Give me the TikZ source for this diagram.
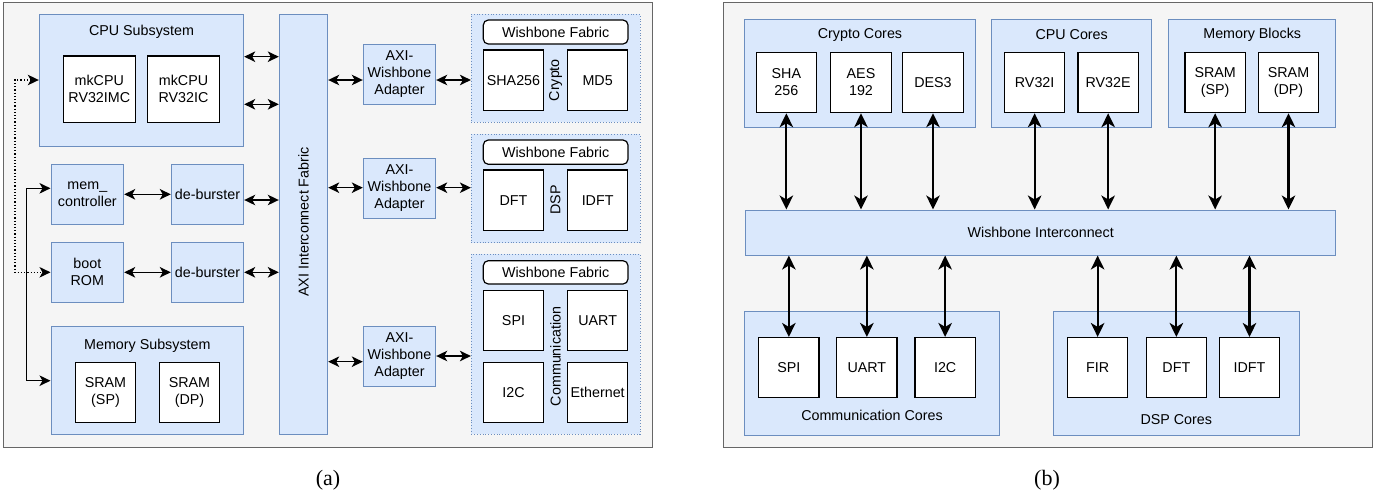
\documentclass[tikz,border=0pt]{standalone}
\usepackage{fontspec}
\setmainfont{Liberation Sans}
\newfontfamily\capfont{Liberation Serif}
\usetikzlibrary{arrows.meta}
\definecolor{panelfill}{HTML}{F5F5F5}
\definecolor{panelline}{HTML}{666666}
\definecolor{bluefill}{HTML}{DAE8FC}
\definecolor{blueline}{HTML}{6C8EBF}
\tikzset{
  txt/.style={font=\fontsize{14.3}{17}\selectfont, align=center, inner sep=0pt},
  panel/.style={draw=panelline, fill=panelfill, line width=1pt, inner sep=0pt},
  bluebox/.style={txt, draw=blueline, fill=bluefill, line width=1pt},
  groupbox/.style={draw=blueline, fill=bluefill, dotted, line width=0.8pt, inner sep=0pt},
  whitebox/.style={txt, draw=black, fill=white, line width=1.2pt},
  fabric/.style={whitebox, rounded corners=5pt},
  lbl/.style={txt},
  caption/.style={font=\capfont\fontsize{22}{24}\selectfont, inner sep=0pt, anchor=base},
  core/.style={whitebox, minimum width=60.4pt, minimum height=60.3pt},
  adapter/.style={bluebox, minimum width=72.4pt, minimum height=60.3pt},
  arrL/.style={{Stealth[length=11pt,width=10.5pt,inset=3pt]}-{Stealth[length=11pt,width=10.5pt,inset=3pt]}, line width=1.4pt},
  arrR/.style={{Stealth[length=14pt,width=13.5pt,inset=4pt]}-{Stealth[length=14pt,width=13.5pt,inset=4pt]}, line width=2.2pt},
  dotarr/.style={{Stealth[length=11pt,width=10.5pt,inset=3pt]}-{Stealth[length=11pt,width=10.5pt,inset=3pt]}, line width=1.1pt, dash pattern=on 1.2pt off 2pt}
}
\begin{document}
\begin{tikzpicture}[x=1pt,y=-1pt]
\useasboundingbox (0,0) rectangle (1387,493);

% ---------------- panel (a): AXI based SoC ----------------
\node[panel, minimum width=649pt, minimum height=445pt] (framea) at (327.5,224.5) {};

\node[bluebox, minimum width=204.4pt, minimum height=132.3pt] (cpusub) at (141.5,80.15) {};
\node[lbl] (cpusubt) at (141.5,32.3) {CPU Subsystem};
\node[whitebox, minimum width=72pt, minimum height=66.3pt] (cpu1) at (99.3,89.15) {mkCPU\\RV32IMC};
\node[whitebox, minimum width=72.4pt, minimum height=66.3pt] (cpu2) at (183.5,89.15) {mkCPU\\RV32IC};

\node[bluebox, minimum width=48.4pt, minimum height=420.3pt] (axi) at (303.5,224.15) {};
\node[lbl, rotate=90] (axit) at (303.5,222) {AXI Interconnect Fabric};

\node[adapter] (ad1) at (399.5,74.15) {AXI-\\Wishbone\\Adapter};
\node[adapter] (ad2) at (399.5,188.3) {AXI-\\Wishbone\\Adapter};
\node[adapter] (ad3) at (399.5,356.5) {AXI-\\Wishbone\\Adapter};

% crypto group
\node[groupbox, minimum width=168.7pt, minimum height=108.3pt] (g1) at (555.65,68.15) {};
\node[fabric, minimum width=144.7pt, minimum height=24pt] (wf1) at (555.65,32) {Wishbone Fabric};
\node[core] (sha) at (513.5,80.15) {SHA256};
\node[core] (md5) at (597.65,80.15) {MD5};
\node[lbl, rotate=90] (g1t) at (555.5,80.15) {Crypto};

% DSP group
\node[groupbox, minimum width=168.7pt, minimum height=108.4pt] (g2) at (555.65,188.5) {};
\node[fabric, minimum width=144.7pt, minimum height=24.3pt] (wf2) at (555.65,152.15) {Wishbone Fabric};
\node[core] (dft) at (513.5,200.15) {DFT};
\node[core] (idft) at (597.65,200.15) {IDFT};
\node[lbl, rotate=90] (g2t) at (555.5,200.15) {DSP};

% communication group
\node[groupbox, minimum width=168.7pt, minimum height=180.3pt] (g3) at (555.65,344.15) {};
\node[fabric, minimum width=144.7pt, minimum height=23.3pt] (wf3) at (555.65,272.35) {Wishbone Fabric};
\node[core] (spi) at (513.5,320.3) {SPI};
\node[core] (uart) at (597.65,320.3) {UART};
\node[core] (i2c) at (513.5,392.5) {I2C};
\node[core] (eth) at (597.65,392.5) {Ethernet};
\node[lbl, rotate=90] (g3t) at (555.5,356.4) {Communication};

% memory side
\node[adapter, minimum width=72.7pt] (memc) at (87.35,194.15) {mem\_\\controller};
\node[adapter] (deb1) at (207.5,194.15) {de-burster};
\node[adapter, minimum width=72.7pt] (boot) at (87.35,272.3) {boot\\ROM};
\node[adapter] (deb2) at (207.5,272.3) {de-burster};

\node[bluebox, minimum width=192.7pt, minimum height=107.6pt] (memsub) at (147.35,380.5) {};
\node[lbl] (memsubt) at (147.35,346) {Memory Subsystem};
\node[core] (sramsp) at (105.5,392.5) {SRAM\\(SP)};
\node[core] (sramdp) at (189.5,392.5) {SRAM\\(DP)};

% connectors of panel (a)
\draw[arrL] (cpusub.east |- 0,56.7) -- (axi.west |- 0,56.7);
\draw[arrL] (cpusub.east |- 0,104.3) -- (axi.west |- 0,104.3);
\draw[arrL] (axi.east |- 0,80) -- (ad1.west |- 0,80);
\draw[arrL] (ad1.east |- 0,80) -- (g1.west |- 0,80);
\draw[arrL] (axi.east |- 0,187.7) -- (ad2.west |- 0,187.7);
\draw[arrL] (ad2.east |- 0,187.7) -- (g2.west |- 0,187.7);
\draw[arrL] (axi.east |- 0,361.7) -- (ad3.west |- 0,361.7);
\draw[arrL] (ad3.east |- 0,356) -- (g3.west |- 0,356);
\draw[arrL] (memc.east |- 0,194.3) -- (deb1.west |- 0,194.3);
\draw[arrL] (deb1.east |- 0,200) -- (axi.west |- 0,200);
\draw[arrL] (boot.east) -- (deb2.west);
\draw[arrL] (deb2.east) -- (axi.west |- deb2.east);
\draw[arrL] (memc.west |- 0,188.3) -| (26.7,380.7) -- (memsub.west |- 0,380.7);
\draw[dotarr] (cpusub.west |- 0,80) -| (15,272.3) -- (boot.west);

\node[caption] (capa) at (328,485) {(a)};

% ---------------- panel (b): Wishbone based SoC ----------------
\node[panel, minimum width=649pt, minimum height=445pt] (frameb) at (1047.5,224.5) {};

\node[bluebox, minimum width=230.6pt, minimum height=108pt] (crypto) at (860,73) {};
\node[lbl] (cryptot) at (860,35) {Crypto Cores};
\node[core] (sha2) at (786.35,82.5) {SHA\\256};
\node[core] (aes) at (861,82.5) {AES\\192};
\node[core] (des) at (933,82.5) {DES3};

\node[bluebox, minimum width=160pt, minimum height=108pt] (cpuc) at (1071.7,73) {};
\node[lbl] (cpuct) at (1071.7,35) {CPU Cores};
\node[core] (rvi) at (1034.65,82.5) {RV32I};
\node[core] (rve) at (1108.15,82.5) {RV32E};

\node[bluebox, minimum width=167pt, minimum height=108pt] (memb) at (1252.2,73) {};
\node[lbl] (membt) at (1252.2,35) {Memory Blocks};
\node[core] (sp) at (1215.15,82.5) {SRAM\\(SP)};
\node[core] (dp) at (1288.5,82.5) {SRAM\\(DP)};

\node[bluebox, minimum width=590pt, minimum height=45pt] (wbi) at (1040.7,232.5) {Wishbone Interconnect};

\node[bluebox, minimum width=254.6pt, minimum height=123.7pt] (comm) at (872,373.15) {};
\node[lbl] (commt) at (872,415) {Communication Cores};
\node[core] (spi2) at (788.85,367.7) {SPI};
\node[core] (uart2) at (866.85,367.7) {UART};
\node[core] (i2c2) at (945.15,367.7) {I2C};

\node[bluebox, minimum width=246pt, minimum height=123.7pt] (dspc) at (1176.3,373.15) {};
\node[lbl] (dspct) at (1176.3,419.3) {DSP Cores};
\node[core] (fir) at (1097.65,367.7) {FIR};
\node[core] (dft2) at (1176.35,367.7) {DFT};
\node[core] (idft2) at (1249.5,367.7) {IDFT};

% connectors of panel (b)
\foreach \n in {sha2,aes,des,rvi,rve,sp,dp}
  \draw[arrR] (\n.south) -- (\n.south |- wbi.north);
\foreach \n in {spi2,uart2,i2c2,fir,dft2,idft2}
  \draw[arrR] (\n.north |- wbi.south) -- (\n.north);

\node[caption] (capb) at (1047,485) {(b)};
\end{tikzpicture}
\end{document}
